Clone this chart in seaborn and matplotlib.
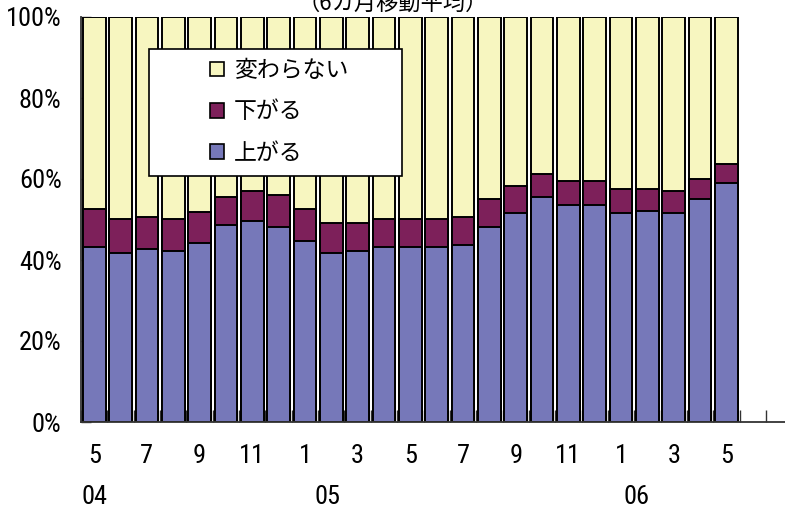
import matplotlib
matplotlib.use("Agg")
import matplotlib.pyplot as plt
import seaborn as sns
import pandas as pd
import numpy as np
from matplotlib.patches import Patch, Rectangle
from matplotlib import font_manager

# monthly periods, May 2004 .. May 2006 (6-month moving average)
periods = ["2004-05", "2004-06", "2004-07", "2004-08", "2004-09", "2004-10",
           "2004-11", "2004-12", "2005-01", "2005-02", "2005-03", "2005-04",
           "2005-05", "2005-06", "2005-07", "2005-08", "2005-09", "2005-10",
           "2005-11", "2005-12", "2006-01", "2006-02", "2006-03", "2006-04",
           "2006-05"]

up = [43.1, 41.7, 42.8, 42.2, 44.1, 48.6, 49.7, 48.1, 44.8, 41.7, 42.2, 43.2,
      43.2, 43.1, 43.7, 48.1, 51.7, 55.6, 53.6, 53.6, 51.6, 52.1, 51.6, 55.1,
      59.1]
down = [9.4, 8.4, 7.9, 7.9, 7.7, 7.0, 7.3, 8.0, 7.8, 7.5, 7.0, 6.9,
        6.9, 7.1, 7.0, 7.0, 6.5, 5.6, 5.9, 5.9, 6.0, 5.4, 5.4, 4.9,
        4.5]
unchanged = [47.5, 49.9, 49.3, 49.9, 48.2, 44.4, 43.0, 43.9, 47.4, 50.8, 50.8, 49.9,
             49.9, 49.8, 49.3, 44.9, 41.8, 38.8, 40.5, 40.5, 42.4, 42.5, 43.0, 40.0,
             36.4]

month_ticks = ["5", "7", "9", "11", "1", "3", "5", "7", "9", "11", "1", "3", "5"]
year_labels = ["04", "05", "06"]
year_pos = [0.0, 8.85, 20.6]

series_names = ["変わらない", "下がる", "上がる"]
c_yellow = "#F7F6C0"
c_maroon = "#7D205A"
c_blue = "#7678B9"

jp = ["Noto Sans CJK JP", "DejaVu Sans"]

# narrow font for the numbers, if one is around
names = {f.name for f in font_manager.fontManager.ttflist}
narrow = [n for n in ["Liberation Sans Narrow", "Arial Narrow", "Roboto Condensed",
                      "Open Sans Condensed"] if n in names]
if narrow:
    num = font_manager.FontProperties(family=narrow[0], size=19)
else:
    num = font_manager.FontProperties(family="DejaVu Sans", stretch="condensed", size=16)

df = pd.DataFrame({"period": periods, "up": up, "down": down, "unchanged": unchanged})
df["lvl_up"] = df["up"]
df["lvl_down"] = df["up"] + df["down"]
df["lvl_all"] = df["up"] + df["down"] + df["unchanged"]

sns.set_style("ticks")
plt.rcParams["text.color"] = "black"
plt.rcParams["xtick.color"] = "black"
plt.rcParams["ytick.color"] = "black"

fig = plt.figure(figsize=(7.85, 5.13), dpi=100)
ax = fig.add_axes([81 / 785, 1 - 422 / 513, 1 - 81 / 785, 405 / 513])

for col, c in [("lvl_all", c_yellow), ("lvl_down", c_maroon), ("lvl_up", c_blue)]:
    sns.barplot(data=df, x="period", y=col, color=c, saturation=1, width=0.86,
                edgecolor="black", linewidth=1.4, ax=ax)

ax.set_xlabel("")
ax.set_ylabel("")
ax.set_ylim(0, 100)
ax.set_xlim(-0.5, 26.22)

for s in ["top", "right"]:
    ax.spines[s].set_visible(False)
for s in ["left", "bottom"]:
    ax.spines[s].set_color("#333333")
    ax.spines[s].set_linewidth(1.3)

ax.set_yticks([0, 20, 40, 60, 80, 100])
ax.set_yticklabels(["0%", "20%", "40%", "60%", "80%", "100%"], fontproperties=num)
ax.tick_params(axis="y", left=True, direction="in", length=7, width=1, pad=14,
               color="#333333")

ax.set_xticks(range(0, 25, 2))
ax.set_xticklabels(month_ticks, fontproperties=num)
ax.tick_params(axis="x", which="major", length=0, pad=16)
ax.set_xticks(np.arange(-0.5, 26, 1), minor=True)
ax.tick_params(axis="x", which="minor", bottom=True, direction="in", length=9,
               width=1, color="#333333")

for lab, xp in zip(year_labels, year_pos):
    ax.text(xp, -0.185, lab, transform=ax.get_xaxis_transform(), ha="center",
            va="center", fontproperties=num)

# legend box
box = Rectangle((149 / 785, 1 - 176 / 513), 253 / 785, 127 / 513,
                transform=fig.transFigure, facecolor="white", edgecolor="black",
                linewidth=1.2, zorder=5, clip_on=False)
ax.add_patch(box)
handles = [Patch(facecolor=c_yellow, edgecolor="black", linewidth=1.2),
           Patch(facecolor=c_maroon, edgecolor="black", linewidth=1.2),
           Patch(facecolor=c_blue, edgecolor="black", linewidth=1.2)]
leg = ax.legend(handles, series_names, loc="center",
                bbox_to_anchor=(279 / 785, 1 - 112 / 513), bbox_transform=fig.transFigure,
                frameon=False, prop={"family": jp, "size": 16.5},
                handlelength=0.6, handleheight=0.6, handletextpad=0.45,
                labelspacing=0.8)
leg.set_zorder(6)

fig.text(393 / 785, 1 - 15 / 513, "（6カ月移動平均）", ha="center", va="bottom",
         family=jp, fontsize=16)

fig.savefig("out.png", dpi=100)
